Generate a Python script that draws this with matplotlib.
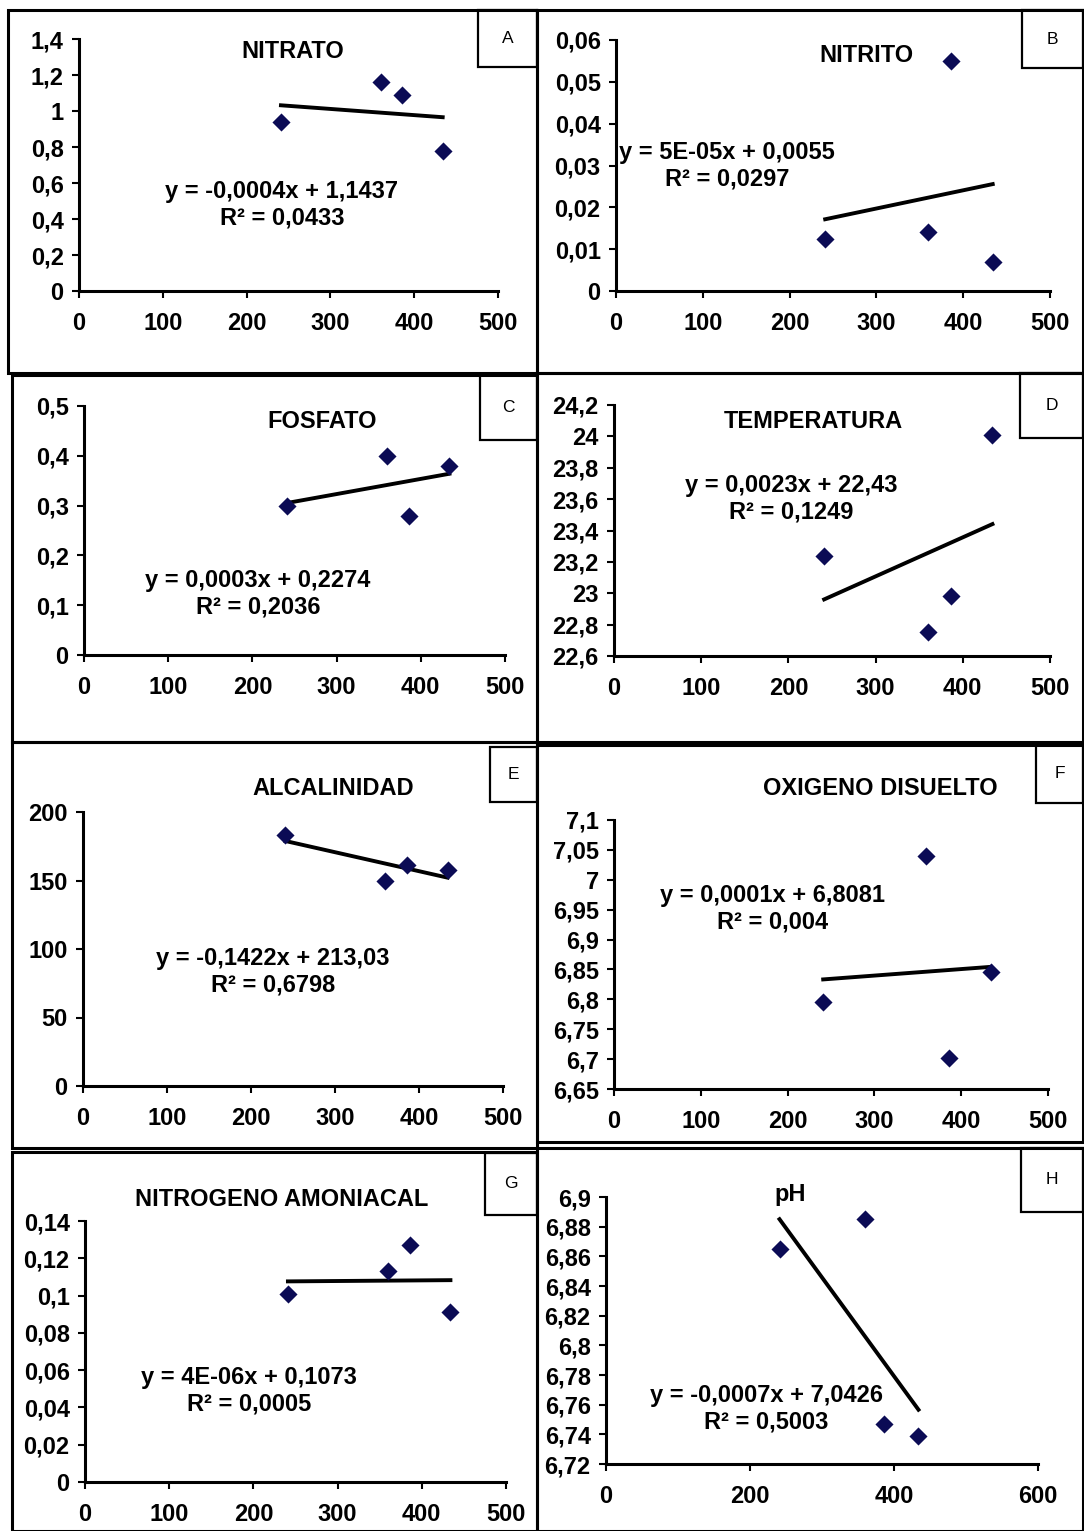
import matplotlib
matplotlib.use("Agg")
import matplotlib.pyplot as plt
import numpy as np
from matplotlib.patches import Rectangle
from matplotlib.ticker import FuncFormatter, MultipleLocator

plt.rcParams['font.family'] = ['Liberation Sans Narrow', 'Liberation Sans', 'DejaVu Sans']
plt.rcParams['font.weight'] = 'bold'

# ---- data ----
x_sites = [241, 360, 386, 434]
titles = ["NITRATO", "NITRITO", "FOSFATO", "TEMPERATURA",
          "ALCALINIDAD", "OXIGENO DISUELTO", "NITROGENO AMONIACAL", "pH"]
letters = ["A", "B", "C", "D", "E", "F", "G", "H"]
nitrato = [0.94, 1.16, 1.09, 0.78]
nitrito = [0.0125, 0.014, 0.055, 0.007]
fosfato = [0.30, 0.40, 0.28, 0.38]
temperatura = [23.24, 22.75, 22.98, 24.01]
alcalinidad = [183, 150, 161, 158]
oxigeno = [6.796, 7.039, 6.702, 6.846]
amoniacal = [0.101, 0.113, 0.127, 0.091]
ph = [6.865, 6.885, 6.747, 6.739]
equations = [
    "y = -0,0004x + 1,1437\nR² = 0,0433",
    "y = 5E-05x + 0,0055\nR² = 0,0297",
    "y = 0,0003x + 0,2274\nR² = 0,2036",
    "y = 0,0023x + 22,43\nR² = 0,1249",
    "y = -0,1422x + 213,03\nR² = 0,6798",
    "y = 0,0001x + 6,8081\nR² = 0,004",
    "y = 4E-06x + 0,1073\nR² = 0,0005",
    "y = -0,0007x + 7,0426\nR² = 0,5003",
]
y_limits = [(0, 1.4), (0, 0.06), (0, 0.5), (22.6, 24.2),
            (0, 200), (6.65, 7.1), (0, 0.14), (6.72, 6.9)]
y_steps = [0.2, 0.01, 0.1, 0.2, 50, 0.05, 0.02, 0.02]
x_limits = [(0, 500)] * 7 + [(0, 600)]
x_steps = [100] * 7 + [200]
series = [nitrato, nitrito, fosfato, temperatura, alcalinidad, oxigeno, amoniacal, ph]

# ---- layout (pixels) ----
W, H = 1084, 1531
fig = plt.figure(figsize=(W / 100, H / 100), dpi=100)

# axes: x0 px, x_end px, y_top px, y_bottom px
axes_px = [
    (79, 498, 39, 291),
    (616, 1050, 40, 291),
    (84, 505, 406, 655),
    (614, 1050, 405, 656),
    (83, 503, 812, 1086),
    (614, 1048, 820, 1089),
    (85, 506, 1221, 1482),
    (606, 1038, 1197, 1464),
]
panel_px = [
    (8, 10, 537, 373), (537, 10, 1083, 373),
    (12, 375, 537, 742), (537, 373, 1083, 742),
    (12, 742, 537, 1148), (537, 745, 1083, 1142),
    (12, 1152, 537, 1531), (537, 1148, 1083, 1531),
]
letter_px = [
    (478, 10, 537, 67), (1022, 10, 1083, 68),
    (480, 375, 537, 440), (1020, 373, 1083, 438),
    (490, 747, 537, 802), (1036, 745, 1083, 803),
    (485, 1153, 537, 1215), (1021, 1148, 1083, 1212),
]
title_px = [(293, 52), (866, 55), (322, 422), (813, 422),
            (333, 788), (880, 788), (282, 1200), (790, 1195)]
eq_px = [(282, 205), (727, 166), (258, 594), (791, 499),
         (273, 972), (773, 909), (249, 1391), (766, 1409)]


def fx(x):
    return x / W


def fy(y):
    return 1 - y / H


def comma(v, pos):
    s = ('%.4f' % v).rstrip('0').rstrip('.')
    if s == '-0':
        s = '0'
    return s.replace('.', ',')


for i in range(8):
    l, t, r, b = panel_px[i]
    fig.patches.append(Rectangle((fx(l), fy(b)), fx(r - l), (b - t) / H,
                                 transform=fig.transFigure, fill=False,
                                 edgecolor='black', linewidth=2.2, zorder=0))
    l, t, r, b = letter_px[i]
    fig.patches.append(Rectangle((fx(l), fy(b)), fx(r - l), (b - t) / H,
                                 transform=fig.transFigure, fill=False,
                                 edgecolor='black', linewidth=1.6, zorder=0))
    fig.text(fx((l + r) / 2), fy((t + b) / 2), letters[i], ha='center', va='center',
             fontsize=12.5, fontweight='normal')

    x0, x1, yt, yb = axes_px[i]
    ax = fig.add_axes([fx(x0), fy(yb), fx(x1 - x0), (yb - yt) / H])
    ax.set_facecolor('none')
    ys = series[i]
    ax.scatter(x_sites, ys, marker='D', s=85, color='#0b0b55', zorder=3, linewidths=0)
    k, c = np.polyfit(x_sites, ys, 1)
    xs = np.array([min(x_sites), max(x_sites)])
    ax.plot(xs, k * xs + c, color='black', linewidth=2.8, zorder=2)
    ax.set_xlim(*x_limits[i])
    ax.set_ylim(*y_limits[i])
    ax.xaxis.set_major_locator(MultipleLocator(x_steps[i]))
    ax.yaxis.set_major_locator(MultipleLocator(y_steps[i]))
    ax.yaxis.set_major_formatter(FuncFormatter(comma))
    ax.xaxis.set_major_formatter(FuncFormatter(comma))
    for side in ['top', 'right']:
        ax.spines[side].set_visible(False)
    for side in ['left', 'bottom']:
        ax.spines[side].set_linewidth(2.2)
    ax.tick_params(axis='both', direction='out', length=5, width=1.5,
                   labelsize=17, pad=6)
    ax.tick_params(axis='x', pad=10)
    for lab in ax.get_xticklabels() + ax.get_yticklabels():
        lab.set_fontweight('bold')

    tx, ty = title_px[i]
    fig.text(fx(tx), fy(ty), titles[i], ha='center', va='center',
             fontsize=17, fontweight='bold')
    ex, ey = eq_px[i]
    fig.text(fx(ex), fy(ey), equations[i], ha='center', va='center',
             fontsize=17, fontweight='bold', linespacing=1.2)

fig.savefig('out.png', dpi=100)
